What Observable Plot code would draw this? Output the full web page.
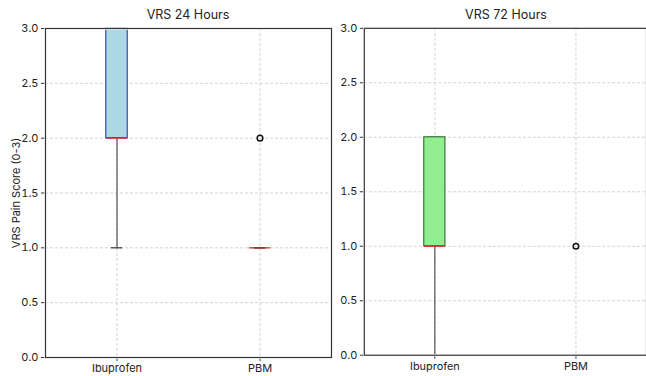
<!DOCTYPE html>
<html>
<head>
<meta charset="utf-8">
<script src="https://cdn.jsdelivr.net/npm/d3@7"></script>
<script src="https://cdn.jsdelivr.net/npm/@observablehq/plot@0.6"></script>
<style>
  html, body { margin: 0; padding: 0; background: #fff; overflow: hidden; }
  #wrap { position: relative; width: 646px; height: 376px; font-family: Inter, "DejaVu Sans", sans-serif; }
  .title { position: absolute; top: 9px; font-size: 12.5px; color: #222; transform: translateX(-50%); white-space: nowrap; line-height: 1; }
  .panel { position: absolute; top: 0; }
</style>
</head>
<body>
<div id="wrap">
  <div class="title" id="t1" style="left:188px">VRS 24 Hours</div>
  <div class="title" id="t2" style="left:506px">VRS 72 Hours</div>
  <div class="panel" id="p1" style="left:0px"></div>
  <div class="panel" id="p2" style="left:333px"></div>
</div>
<script>
// Categories and panel titles
const groups = ["Ibuprofen", "PBM"];
const panelTitles = ["VRS 24 Hours", "VRS 72 Hours"];
const yLabel = "VRS Pain Score (0-3)";
const yTicks = [0, 0.5, 1.0, 1.5, 2.0, 2.5, 3.0];

// VRS 24 Hours box statistics (Ibuprofen, PBM)
const h24Low    = [1, 1];
const h24Q1     = [2, 1];
const h24Median = [2, 1];
const h24Q3     = [3, 1];
const h24High   = [3, 1];
const h24Outliers = [{group: "PBM", value: 2}];

// VRS 72 Hours box statistics (Ibuprofen, PBM)
const h72Low    = [0, 0];
const h72Q1     = [1, 0];
const h72Median = [1, 0];
const h72Q3     = [2, 0];
const h72High   = [2, 0];
const h72Outliers = [{group: "PBM", value: 1}];

const fills = ["#add8e6", "#90ee90"];
const edges = ["#2b3ca6", "#2f6a2f"];
const medianColor = "#e0281e";

function table(lo, q1, med, q3, hi) {
  return groups.map((g, i) => ({group: g, pos: i + 1, lo: lo[i], q1: q1[i], med: med[i], q3: q3[i], hi: hi[i]}));
}

function panel(stats, outliers, idx, opts) {
  const hw = 0.075, cw = 0.04;
  const boxes = stats.filter(d => d.q3 > d.q1);
  const outs = outliers.map(o => ({pos: groups.indexOf(o.group) + 1, value: o.value}));
  const marks = [
    Plot.gridY(yTicks, {stroke: "#c8c8c8", strokeOpacity: 1, strokeDasharray: "3,2", strokeWidth: 0.8}),
    Plot.gridX([1, 2], {stroke: "#c8c8c8", strokeOpacity: 1, strokeDasharray: "3,2", strokeWidth: 0.8}),
    Plot.ruleX(stats, {x: "pos", y1: "lo", y2: "q1", stroke: "#444", strokeWidth: 1.1}),
    Plot.ruleX(stats, {x: "pos", y1: "q3", y2: "hi", stroke: "#444", strokeWidth: 1.1}),
    Plot.ruleY(stats, {y: "lo", x1: d => d.pos - cw, x2: d => d.pos + cw, stroke: "#222", strokeWidth: 1.1}),
    Plot.ruleY(stats, {y: "hi", x1: d => d.pos - cw, x2: d => d.pos + cw, stroke: "#222", strokeWidth: 1.1}),
    Plot.rect(boxes, {x1: d => d.pos - hw, x2: d => d.pos + hw, y1: "q1", y2: "q3", fill: fills[idx], stroke: edges[idx], strokeWidth: 1.1}),
    Plot.ruleY(stats, {y: "med", x1: d => d.pos - hw, x2: d => d.pos + hw, stroke: medianColor, strokeWidth: 1.2}),
    Plot.dot(outs, {x: "pos", y: "value", r: 2.8, stroke: "#111", strokeWidth: 1.5, fill: "none"}),
    Plot.axisY({ticks: yTicks, tickFormat: d3.format(".1f"), tickSize: 4, tickPadding: 3, stroke: "#333",
      label: opts.label, labelAnchor: "center", labelOffset: 33, labelArrow: "none", fontSize: 11}),
    Plot.axisX({ticks: [1, 2], tickFormat: d => groups[d - 1], tickSize: 4, tickPadding: 3, stroke: "#333", label: null, fontSize: 11}),
    Plot.frame({stroke: "#fff", strokeWidth: 2.4}),
    Plot.frame({stroke: "#333", strokeWidth: 1.2})
  ];
  return Plot.plot({
    width: opts.width,
    height: 376,
    marginLeft: opts.marginLeft,
    marginRight: opts.marginRight,
    marginTop: 28,
    marginBottom: 19,
    x: {domain: [0.5, 2.5]},
    y: {domain: [0, 3]},
    style: {fontFamily: "Inter, 'DejaVu Sans', sans-serif", fontSize: "11px", color: "#222", background: "transparent", overflow: "visible"},
    marks
  });
}

document.getElementById("p1").append(
  panel(table(h24Low, h24Q1, h24Median, h24Q3, h24High), h24Outliers, 0,
    {width: 333, marginLeft: 45, marginRight: 2, label: yLabel}));
document.getElementById("p2").append(
  panel(table(h72Low, h72Q1, h72Median, h72Q3, h72High), h72Outliers, 1,
    {width: 315, marginLeft: 31, marginRight: 0, label: null}));
</script>
</body>
</html>
